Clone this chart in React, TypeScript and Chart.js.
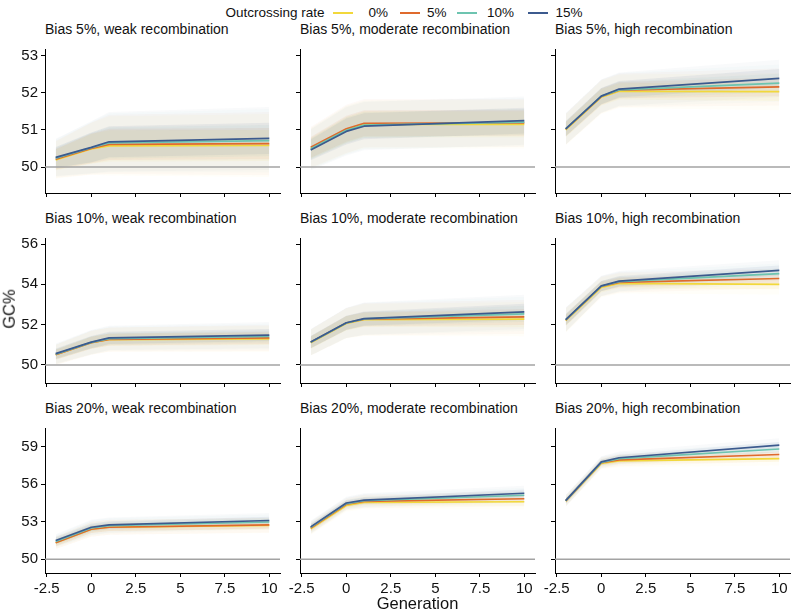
import React, { useEffect, useRef } from 'react';
import { Chart, registerables } from 'chart.js';
Chart.register(...registerables);

// ---------- data ----------
const generations = [-2, 0, 1, 10];
const rateLabels = ['0%', '5%', '10%', '15%'];
const rateColors = ['#F2D83B', '#DF6A2D', '#6DC4B0', '#3C5A8E'];
const xTicks = [-2.5, 0, 2.5, 5, 7.5, 10];
const xLimits = [-2.6, 10.6];
const yTicksByRow = [[50, 51, 52, 53], [50, 52, 54, 56], [50, 53, 56, 59]];
const yLimitsByRow = [[49.3, 53.18], [49.1, 56.3], [48.9, 60.5]];
const biasLabels = ['Bias 5%', 'Bias 10%', 'Bias 20%'];
const recombLabels = ['weak recombination', 'moderate recombination', 'high recombination'];
const baselineGC = 50;

// mean GC% per outcrossing rate (0%, 5%, 10%, 15%) at generations -2, 0, 1, 10
const bias5Weak = [
  [50.19, 50.49, 50.57, 50.58],
  [50.21, 50.50, 50.61, 50.63],
  [50.24, 50.52, 50.65, 50.71],
  [50.26, 50.53, 50.68, 50.77],
];
const bias5Moderate = [
  [50.50, 51.00, 51.15, 51.15],
  [50.53, 51.03, 51.18, 51.19],
  [50.49, 50.99, 51.13, 51.21],
  [50.46, 50.96, 51.10, 51.25],
];
const bias5High = [
  [51.00, 51.88, 52.04, 52.03],
  [51.02, 51.90, 52.07, 52.16],
  [51.03, 51.91, 52.08, 52.26],
  [51.03, 51.91, 52.10, 52.39],
];
const bias10Weak = [
  [50.50, 51.10, 51.25, 51.29],
  [50.50, 51.10, 51.26, 51.34],
  [50.53, 51.12, 51.30, 51.41],
  [50.56, 51.13, 51.34, 51.48],
];
const bias10Moderate = [
  [51.10, 52.06, 52.24, 52.27],
  [51.12, 52.08, 52.27, 52.38],
  [51.12, 52.08, 52.28, 52.53],
  [51.13, 52.09, 52.30, 52.63],
];
const bias10High = [
  [52.20, 53.85, 54.05, 54.00],
  [52.22, 53.90, 54.10, 54.29],
  [52.24, 53.91, 54.13, 54.53],
  [52.25, 53.92, 54.16, 54.69],
];
const bias20Weak = [
  [51.32, 52.40, 52.56, 52.70],
  [51.32, 52.40, 52.56, 52.75],
  [51.42, 52.50, 52.68, 52.98],
  [51.50, 52.56, 52.75, 53.10],
];
const bias20Moderate = [
  [52.44, 54.30, 54.55, 54.60],
  [52.50, 54.40, 54.63, 54.84],
  [52.55, 54.45, 54.68, 55.12],
  [52.59, 54.50, 54.73, 55.28],
];
const bias20High = [
  [54.65, 57.66, 57.87, 58.05],
  [54.67, 57.72, 57.95, 58.38],
  [54.68, 57.75, 58.05, 58.82],
  [54.69, 57.79, 58.12, 59.13],
];

// half-width of the replicate cloud around each mean (dense core / faint outer)
const coreSpread = [
  [0.28, 0.40, 0.42, 0.42], [0.28, 0.35, 0.35, 0.35], [0.20, 0.22, 0.22, 0.25],
  [0.25, 0.30, 0.30, 0.30], [0.30, 0.35, 0.35, 0.40], [0.28, 0.25, 0.25, 0.25],
  [0.28, 0.30, 0.30, 0.30], [0.25, 0.25, 0.25, 0.30], [0.22, 0.22, 0.25, 0.25],
];
const outerSpread = [
  [0.50, 0.70, 0.80, 0.85], [0.55, 0.65, 0.65, 0.65], [0.42, 0.45, 0.45, 0.50],
  [0.50, 0.60, 0.60, 0.65], [0.65, 0.75, 0.80, 0.85], [0.60, 0.50, 0.50, 0.50],
  [0.50, 0.60, 0.60, 0.60], [0.50, 0.50, 0.55, 0.60], [0.45, 0.45, 0.50, 0.55],
];

const panelSeries = [
  bias5Weak, bias5Moderate, bias5High,
  bias10Weak, bias10Moderate, bias10High,
  bias20Weak, bias20Moderate, bias20High,
];

// ---------- layout ----------
const FONT = '"Liberation Sans", Arial, Helvetica, sans-serif';
const colLefts = [45, 300, 555];
const rowTops = [45, 234, 424];
const rowHeights = [148, 149, 149];
const plotW = 235;
const YW = 40;
const XH = 30;
const PT = 8;
const PR = 6;

function rgba(hex: string, a: number) {
  const n = parseInt(hex.slice(1), 16);
  return `rgba(${(n >> 16) & 255},${(n >> 8) & 255},${n & 255},${a})`;
}

function Panel({ idx }: { idx: number }) {
  const ref = useRef<HTMLCanvasElement>(null);
  const row = Math.floor(idx / 3);
  const col = idx % 3;
  const W = YW + plotW + PR;
  const H = PT + rowHeights[row] + XH;

  useEffect(() => {
    const series = panelSeries[idx];
    const datasets: any[] = [];
    const add = (d: any) => {
      d.order = 1000 - datasets.length;
      datasets.push(d);
      return datasets.length - 1;
    };
    const band = (s: number, spread: number[], alpha: number) => {
      const m = series[s];
      const upperIdx = datasets.length;
      add({
        data: generations.map((g, i) => ({ x: g, y: m[i] + spread[i] })),
        borderWidth: 0, pointRadius: 0, fill: upperIdx + 1,
        backgroundColor: rgba(rateColors[s], alpha), tension: 0,
      });
      add({
        data: generations.map((g, i) => ({ x: g, y: m[i] - spread[i] })),
        borderWidth: 0, pointRadius: 0, fill: false, tension: 0,
      });
    };
    for (let s = 0; s < 4; s++) band(s, outerSpread[idx], 0.03);
    for (let s = 0; s < 4; s++) band(s, coreSpread[idx], 0.08);
    add({
      data: [{ x: xLimits[0], y: baselineGC }, { x: xLimits[1], y: baselineGC }],
      borderColor: '#a3a3a3', borderWidth: 1.5, pointRadius: 0, fill: false,
    });
    for (let s = 0; s < 4; s++) {
      add({
        label: rateLabels[s],
        data: generations.map((g, i) => ({ x: g, y: series[s][i] })),
        borderColor: rateColors[s], borderWidth: 1.7, pointRadius: 0, fill: false,
        tension: 0, borderJoinStyle: 'round',
      });
    }

    const tickFont = { family: FONT, size: 15 };
    const chart = new Chart(ref.current as HTMLCanvasElement, {
      type: 'line',
      data: { datasets },
      options: {
        animation: false,
        responsive: false,
        events: [],
        layout: { padding: { top: PT, right: PR, left: 0, bottom: 0 } },
        plugins: { legend: { display: false }, tooltip: { enabled: false }, title: { display: false } },
        scales: {
          x: {
            type: 'linear',
            min: xLimits[0],
            max: xLimits[1],
            afterBuildTicks: (s: any) => { s.ticks = xTicks.map((v) => ({ value: v })); },
            afterFit: (s: any) => { s.height = XH; },
            ticks: {
              callback: (v: any) => (row === 2 ? String(v) : ''),
              font: tickFont, color: '#111', padding: 3, maxRotation: 0, autoSkip: false,
            },
            grid: { display: true, drawOnChartArea: false, drawTicks: true, tickLength: 4, color: '#000', lineWidth: 1 },
            border: { display: true, color: '#000', width: 1 },
          },
          y: {
            type: 'linear',
            min: yLimitsByRow[row][0],
            max: yLimitsByRow[row][1],
            afterBuildTicks: (s: any) => { s.ticks = yTicksByRow[row].map((v) => ({ value: v })); },
            afterFit: (s: any) => { s.width = YW; },
            ticks: {
              callback: (v: any) => (col === 0 ? String(v) : ''),
              font: tickFont, color: '#111', padding: 3, autoSkip: false,
            },
            grid: { display: true, drawOnChartArea: false, drawTicks: true, tickLength: 4, color: '#000', lineWidth: 1 },
            border: { display: true, color: '#000', width: 1 },
          },
        },
      } as any,
    });
    return () => chart.destroy();
  }, []);

  return (
    <canvas
      ref={ref}
      width={W}
      height={H}
      style={{ position: 'absolute', left: colLefts[col] - YW, top: rowTops[row] - PT, width: W, height: H }}
    />
  );
}

const textBase: React.CSSProperties = {
  position: 'absolute', fontFamily: FONT, color: '#111', whiteSpace: 'nowrap', lineHeight: 1,
};

export default function App() {
  const titleBaselines = [34, 223, 412.5];
  const legendKeys = [
    { line: 333, text: 368.5 },
    { line: 400, text: 427 },
    { line: 457, text: 487 },
    { line: 528, text: 555.5 },
  ];
  return (
    <div style={{ position: 'fixed', left: 0, top: 0, width: 792, height: 611, background: '#fff', overflow: 'hidden' }}>
      {/* legend */}
      <div style={{ ...textBase, fontSize: 13.5, left: 225.5, top: 6.4 }}>Outcrossing rate</div>
      {legendKeys.map((k, i) => (
        <React.Fragment key={i}>
          <div style={{ position: 'absolute', left: k.line, top: 12, width: 20, height: 2, background: rateColors[i] }} />
          <div style={{ ...textBase, fontSize: 13.5, left: k.text, top: 6.4 }}>{rateLabels[i]}</div>
        </React.Fragment>
      ))}
      {/* panel titles */}
      {[0, 1, 2].map((r) =>
        [0, 1, 2].map((c) => (
          <div key={`t${r}${c}`} style={{ ...textBase, fontSize: 14, left: colLefts[c], top: titleBaselines[r] - 11.85 }}>
            {`${biasLabels[r]}, ${recombLabels[c]}`}
          </div>
        ))
      )}
      {Array.from({ length: 9 }, (_, i) => <Panel key={i} idx={i} />)}
      {/* axis titles */}
      <div style={{ ...textBase, fontSize: 16.5, left: 417.5, top: 595, transform: 'translateX(-50%)' }}>Generation</div>
      <div style={{ ...textBase, fontSize: 16.5, left: 9, top: 309, transform: 'translate(-50%,-50%) rotate(-90deg)' }}>GC%</div>
    </div>
  );
}
